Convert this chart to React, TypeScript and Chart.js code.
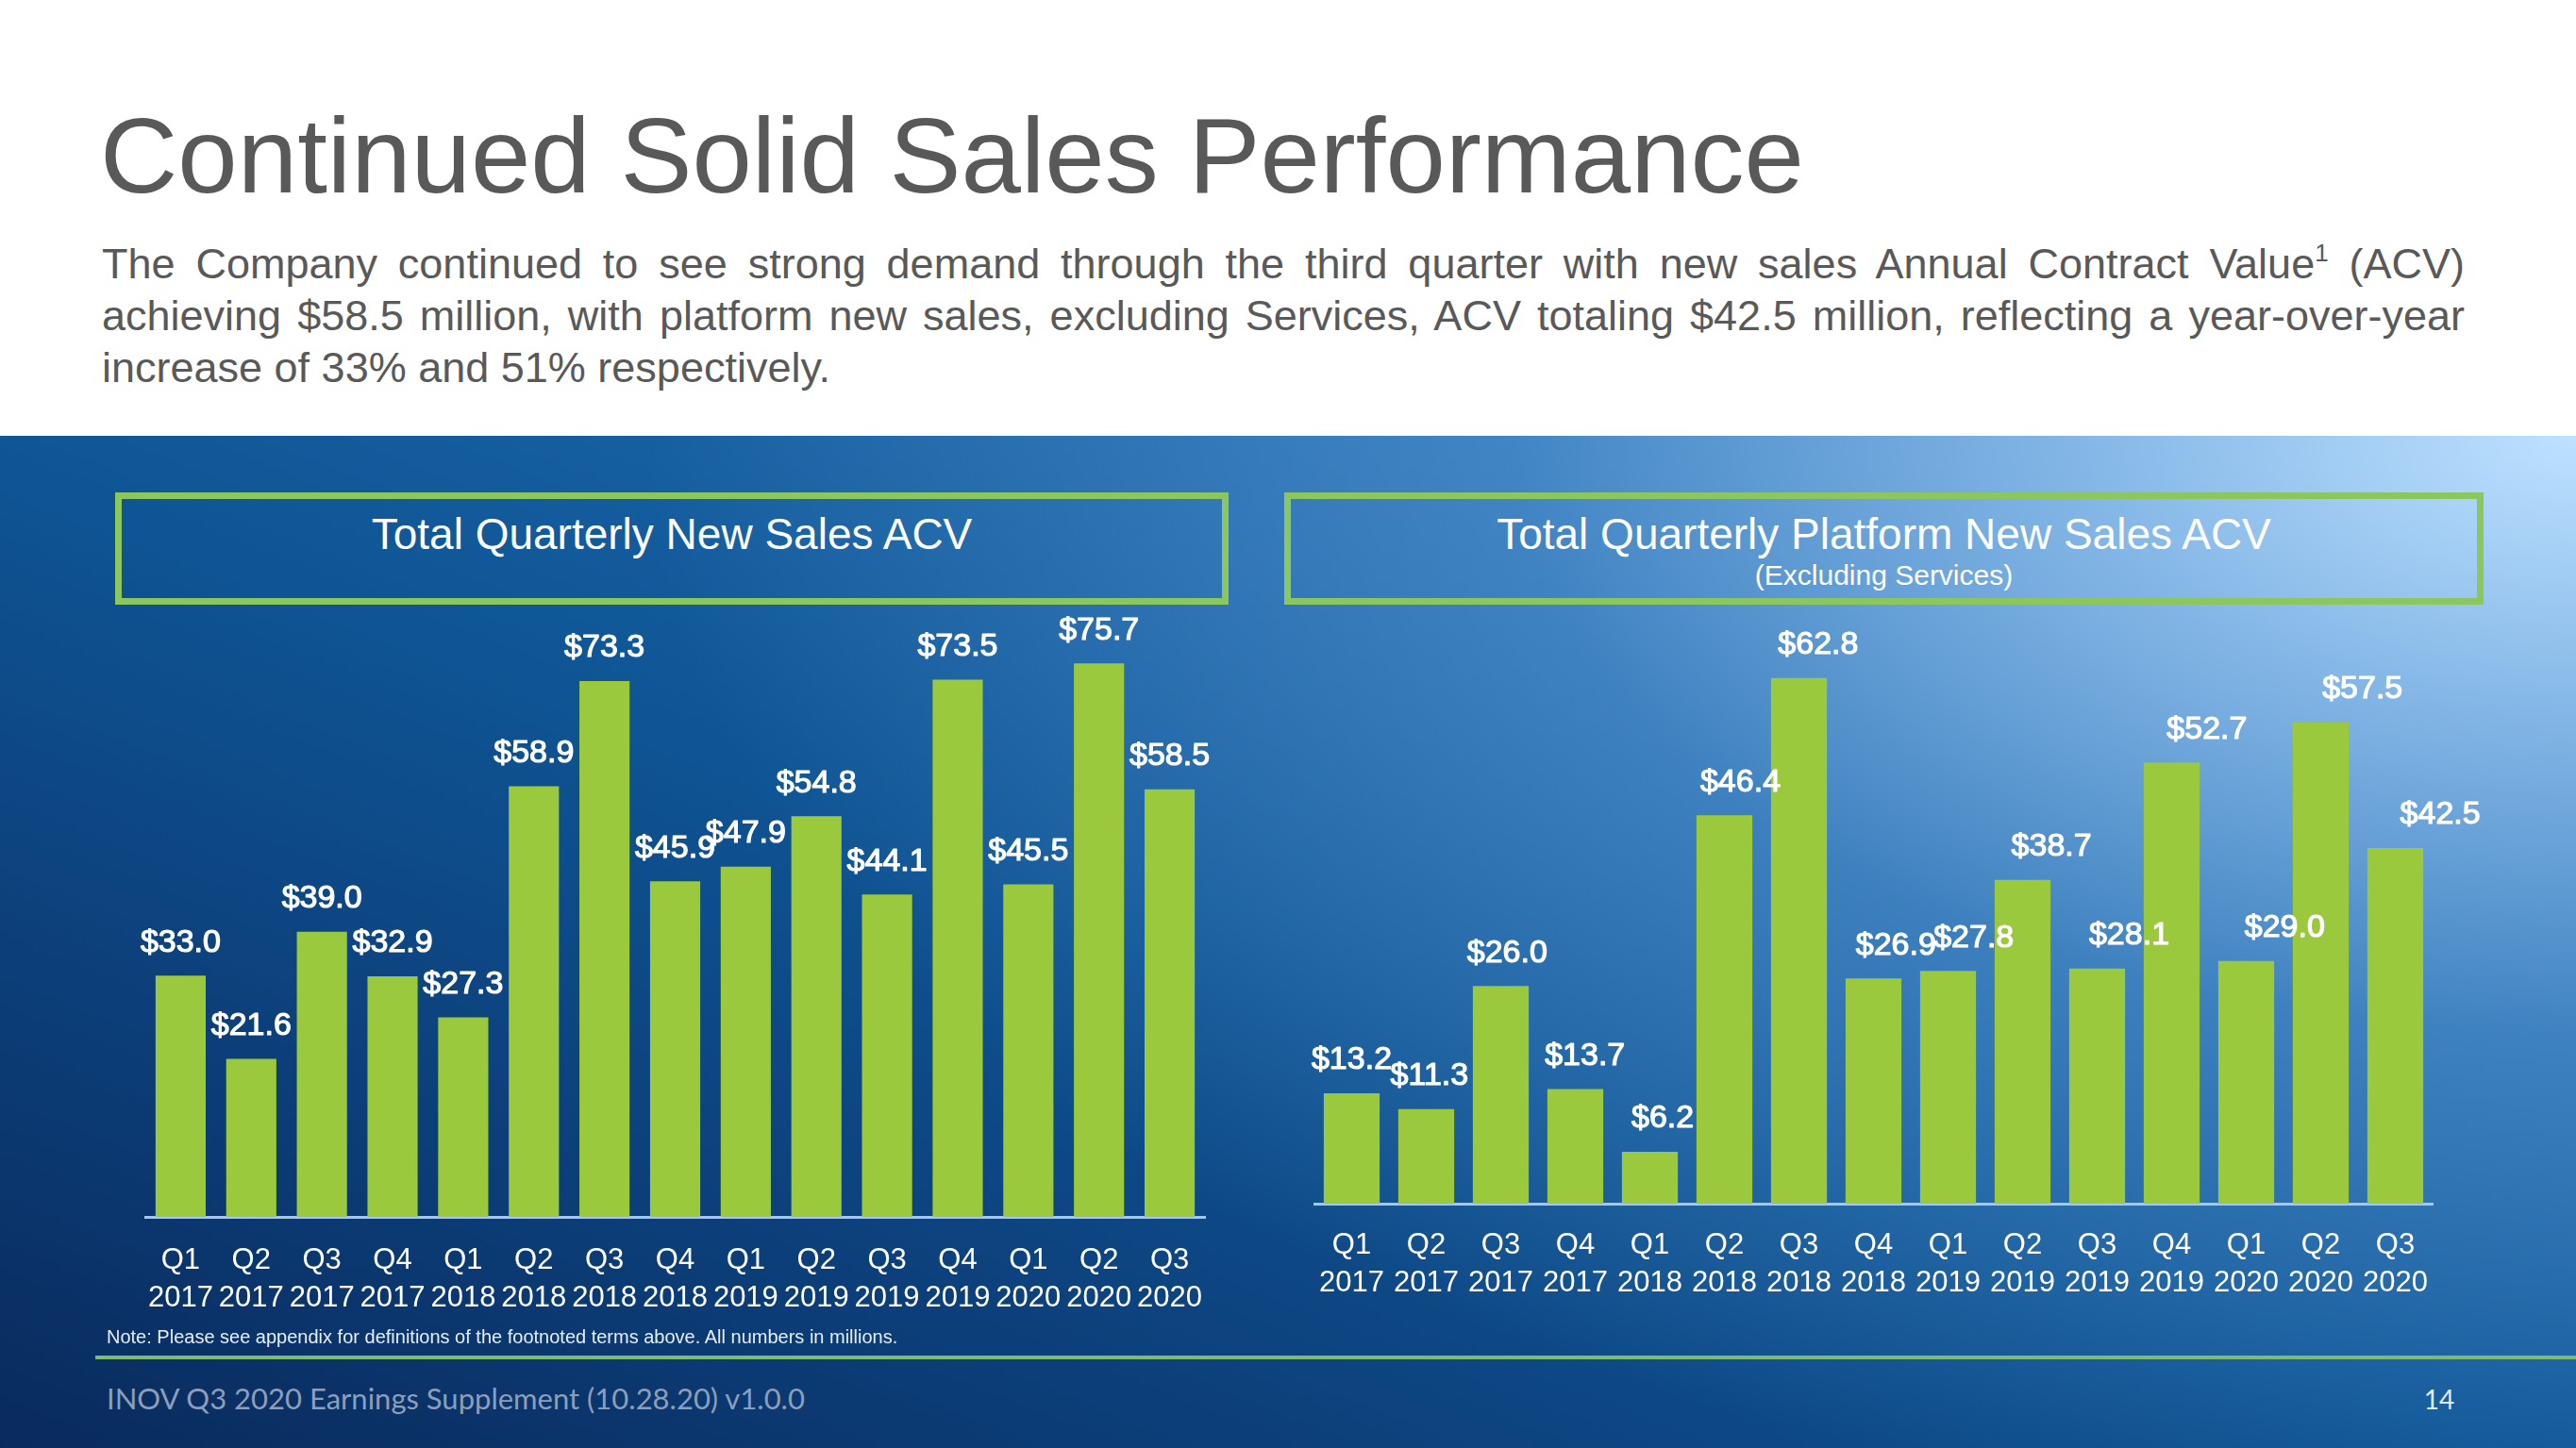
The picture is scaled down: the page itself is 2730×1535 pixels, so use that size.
import React, { useEffect, useRef } from "react";
import { Chart, registerables } from "chart.js";

Chart.register(...registerables);

const quarters = ["Q1", "Q2", "Q3", "Q4", "Q1", "Q2", "Q3", "Q4", "Q1", "Q2", "Q3", "Q4", "Q1", "Q2", "Q3"];
const years = ["2017", "2017", "2017", "2017", "2018", "2018", "2018", "2018", "2019", "2019", "2019", "2019", "2020", "2020", "2020"];
const totalNewSalesAcv = [33.0, 21.6, 39.0, 32.9, 27.3, 58.9, 73.3, 45.9, 47.9, 54.8, 44.1, 73.5, 45.5, 75.7, 58.5];
const platformNewSalesAcv = [13.2, 11.3, 26.0, 13.7, 6.2, 46.4, 62.8, 26.9, 27.8, 38.7, 28.1, 52.7, 29.0, 57.5, 42.5];

const pageTitle = "Continued Solid Sales Performance";
const leftTitle = "Total Quarterly New Sales ACV";
const rightTitle = "Total Quarterly Platform New Sales ACV";
const rightSubtitle = "(Excluding Services)";
const noteText = "Note: Please see appendix for definitions of the footnoted terms above. All numbers in millions.";
const footerText = "INOV Q3 2020 Earnings Supplement (10.28.20) v1.0.0";
const pageNumber = "14";

const SANS = '"Liberation Sans", Arial, Helvetica, sans-serif';
const BAR_GREEN = "#9BC93D";
const BOX_GREEN = "#8CC65F";

const valueLabels = {
  id: "valueLabels",
  afterDatasetsDraw(chart: any, _args: any, opts: any) {
    const { ctx } = chart;
    const meta = chart.getDatasetMeta(0);
    const data = chart.data.datasets[0].data as number[];
    ctx.save();
    ctx.font = `${opts.size}px ${SANS}`;
    ctx.fillStyle = opts.color;
    ctx.strokeStyle = opts.color;
    ctx.lineWidth = 1.2;
    ctx.lineJoin = "round";
    ctx.textAlign = "center";
    ctx.textBaseline = "middle";
    meta.data.forEach((bar: any, i: number) => {
      const t = "$" + Number(data[i]).toFixed(1);
      const x = bar.x + opts.drift * i;
      const y = bar.y - opts.offset;
      ctx.strokeText(t, x, y);
      ctx.fillText(t, x, y);
    });
    ctx.restore();
  },
};

type PanelProps = {
  values: number[];
  left: number;
  top: number;
  width: number;
  height: number;
  pad: { left: number; right: number; top: number; bottom: number };
  yMax: number;
  axisH: number;
  drift: number;
  barPct: number;
  tickPad: number;
};

function BarPanel(p: PanelProps) {
  const ref = useRef<HTMLCanvasElement>(null);
  useEffect(() => {
    const chart = new Chart(ref.current as HTMLCanvasElement, {
      type: "bar",
      data: {
        labels: quarters.map((q, i) => [q, years[i]]),
        datasets: [
          {
            data: p.values,
            backgroundColor: BAR_GREEN,
            borderWidth: 0,
            barPercentage: p.barPct,
            categoryPercentage: 1,
          },
        ],
      },
      options: {
        responsive: false,
        animation: false,
        devicePixelRatio: 1,
        layout: { padding: p.pad },
        plugins: {
          legend: { display: false },
          tooltip: { enabled: false },
          valueLabels: { size: 34, color: "#FFFFFF", offset: 35, drift: p.drift },
        } as any,
        scales: {
          x: {
            grid: { display: false, drawTicks: false },
            border: { display: true, color: "#A9C6E6", width: 3 },
            ticks: {
              color: "#FFFFFF",
              font: { family: SANS, size: 31, lineHeight: 1.29 },
              padding: p.tickPad,
              maxRotation: 0,
              minRotation: 0,
              autoSkip: false,
            },
            afterFit: (s: any) => {
              s.height = p.axisH;
            },
          },
          y: { display: false, min: 0, max: p.yMax },
        },
      },
      plugins: [valueLabels as any],
    });
    return () => chart.destroy();
  }, []);
  return (
    <canvas
      ref={ref}
      width={p.width}
      height={p.height}
      style={{ position: "absolute", left: p.left, top: p.top, width: p.width, height: p.height }}
    />
  );
}

function Text(props: {
  left: number;
  top: number;
  width?: number;
  size: number;
  color: string;
  align?: "left" | "center" | "right";
  family?: string;
  children: React.ReactNode;
}) {
  return (
    <div
      style={{
        position: "absolute",
        left: props.left,
        top: props.top,
        width: props.width,
        fontSize: props.size,
        lineHeight: `${props.size}px`,
        color: props.color,
        textAlign: props.align || "left",
        fontFamily: props.family || SANS,
        whiteSpace: "nowrap",
      }}
    >
      {props.children}
    </div>
  );
}

export default function App() {
  useEffect(() => {
    document.body.style.margin = "0";
    document.body.style.overflow = "hidden";
  }, []);

  const bodyLine: React.CSSProperties = {
    textAlign: "justify",
    textAlignLast: "justify",
    whiteSpace: "normal",
    height: 55,
  };

  return (
    <div
      style={{
        position: "absolute",
        left: 0,
        top: 0,
        width: 2730,
        height: 1535,
        overflow: "hidden",
        background: "#FFFFFF",
        fontFamily: SANS,
      }}
    >
      <Text left={106} top={108} size={114} color="#595959">
        {pageTitle}
      </Text>

      <div
        style={{
          position: "absolute",
          left: 108,
          top: 252,
          width: 2504,
          fontSize: 45,
          lineHeight: "55px",
          color: "#595959",
          fontFamily: SANS,
        }}
      >
        <div style={bodyLine}>
          The Company continued to see strong demand through the third quarter with new sales Annual Contract Value
          <sup style={{ fontSize: 26, lineHeight: 0, verticalAlign: "0.7em" }}>1</sup> (ACV)
        </div>
        <div style={bodyLine}>
          achieving $58.5 million, with platform new sales, excluding Services, ACV totaling $42.5 million, reflecting a year-over-year
        </div>
        <div style={{ whiteSpace: "nowrap" }}>increase of 33% and 51% respectively.</div>
      </div>

      <div
        style={{
          position: "absolute",
          left: 0,
          top: 462,
          width: 2730,
          height: 1073,
          background:
            "radial-gradient(ellipse 2050px 1150px at 100% 0%, rgba(190,225,255,1) 0%, rgba(150,196,240,0.85) 25%, rgba(100,160,220,0.5) 55%, rgba(60,130,200,0) 100%), linear-gradient(to top right, #092a5c 0%, #0c3f7a 25%, #0f5696 50%, #2a78bd 100%)",
        }}
      />

      <div
        style={{
          position: "absolute",
          left: 122,
          top: 522,
          width: 1180,
          height: 119,
          border: `7px solid ${BOX_GREEN}`,
          boxSizing: "border-box",
        }}
      />
      <Text left={122} top={543} width={1180} size={46} color="#FFFFFF" align="center">
        {leftTitle}
      </Text>

      <div
        style={{
          position: "absolute",
          left: 1361,
          top: 522,
          width: 1271,
          height: 119,
          border: `7px solid ${BOX_GREEN}`,
          boxSizing: "border-box",
        }}
      />
      <Text left={1361} top={543} width={1271} size={46} color="#FFFFFF" align="center">
        {rightTitle}
      </Text>
      <Text left={1361} top={595} width={1271} size={30} color="#FFFFFF" align="center">
        {rightSubtitle}
      </Text>

      <BarPanel
        values={totalNewSalesAcv}
        left={100}
        top={600}
        width={1240}
        height={820}
        pad={{ left: 54, right: 63, top: 70, bottom: 0 }}
        yMax={80}
        axisH={130}
        drift={0}
        barPct={0.71}
        tickPad={26}
      />
      <BarPanel
        values={platformNewSalesAcv}
        left={1340}
        top={600}
        width={1300}
        height={820}
        pad={{ left: 53, right: 62, top: 55, bottom: 0 }}
        yMax={70}
        axisH={144}
        drift={3.4}
        barPct={0.75}
        tickPad={24}
      />

      <Text left={113} top={1407} size={20} color="#E6EDF5">
        {noteText}
      </Text>

      <div style={{ position: "absolute", left: 101, top: 1437, width: 2629, height: 4, background: "#7DBB6E" }} />

      <Text left={113} top={1467} size={31} color="#8C9FBA" family="Lato, 'Open Sans', sans-serif">
        {footerText}
      </Text>
      <Text left={2545} top={1469} width={80} size={28} color="#E3ECF6" align="center" family="Lato, 'Open Sans', sans-serif">
        {pageNumber}
      </Text>
    </div>
  );
}
